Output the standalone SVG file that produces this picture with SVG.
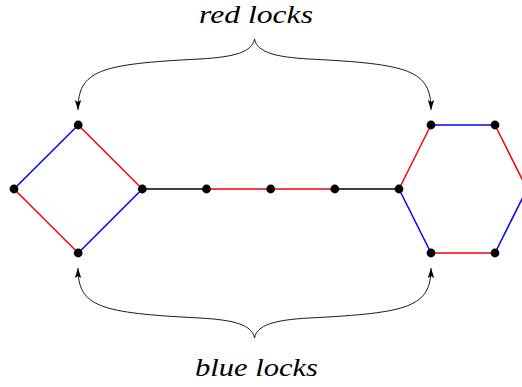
<svg xmlns="http://www.w3.org/2000/svg" width="522" height="387" viewBox="0 0 522 387">
<style>
.e{stroke-width:1.5;fill:none;stroke-linecap:round}
.r{stroke:#ff0000}
.b{stroke:#0000ff}
.k{stroke:#000000}
.n{fill:#000000}
.br{fill:none;stroke:#000000;stroke-width:0.9}
.lbl{font-family:"Liberation Serif","Times New Roman",serif;font-style:italic;font-size:25px;fill:#000000}
</style>
<defs>
<marker id="ah" viewBox="0 0 10 10" refX="10" refY="5" markerWidth="10" markerHeight="10" markerUnits="userSpaceOnUse" orient="auto">
<path d="M0,1.8 L10,5 L0,8.2 L2,5 Z" fill="#000000"/>
</marker>
</defs>
<rect width="522" height="387" fill="#ffffff"/>
<g id="connectors">
<line class="e b" x1="14" y1="189" x2="78.2" y2="125"/>
<line class="e r" x1="78.2" y1="125" x2="142.3" y2="189"/>
<line class="e r" x1="14" y1="189" x2="78.2" y2="253"/>
<line class="e b" x1="78.2" y1="253" x2="142.3" y2="189"/>
<line class="e k" x1="142.3" y1="189" x2="206.5" y2="189"/>
<line class="e r" x1="206.5" y1="189" x2="270.7" y2="189"/>
<line class="e r" x1="270.7" y1="189" x2="334.8" y2="189"/>
<line class="e k" x1="334.8" y1="189" x2="399" y2="189"/>
<line class="e r" x1="399" y1="189" x2="431" y2="125"/>
<line class="e b" x1="431" y1="125" x2="495" y2="125"/>
<line class="e r" x1="495" y1="125" x2="527" y2="189"/>
<line class="e b" x1="527" y1="189" x2="495" y2="253"/>
<line class="e r" x1="495" y1="253" x2="431" y2="253"/>
<line class="e b" x1="431" y1="253" x2="399" y2="189"/>
</g>
<g id="braces">
<path class="br" marker-end="url(#ah)" d="M254.5,39 C252,52 235,57 200,59 C100,64 78,70 78,110"/>
<path class="br" marker-end="url(#ah)" d="M254.5,39 C257,52 274,57 309,59 C409,64 431,70 431,110"/>
<path class="br" marker-end="url(#ah)" d="M254.5,338 C252,325 235,320 200,318 C100,313 78,307 78,268"/>
<path class="br" marker-end="url(#ah)" d="M254.5,338 C257,325 274,320 309,318 C409,313 431,307 431,268"/>
</g>
<g id="label-red"><text class="lbl" x="256" y="23" text-anchor="middle" textLength="114" lengthAdjust="spacingAndGlyphs">red locks</text></g>
<g id="label-blue"><text class="lbl" x="256.5" y="376" text-anchor="middle" textLength="123" lengthAdjust="spacingAndGlyphs">blue locks</text></g>
<g id="n1"><circle class="n" cx="14" cy="189" r="4.4"/></g>
<g id="n2"><circle class="n" cx="78.2" cy="125" r="4.4"/></g>
<g id="n3"><circle class="n" cx="78.2" cy="253" r="4.4"/></g>
<g id="n4"><circle class="n" cx="142.3" cy="189" r="4.4"/></g>
<g id="n5"><circle class="n" cx="206.5" cy="189" r="4.4"/></g>
<g id="n6"><circle class="n" cx="270.7" cy="189" r="4.4"/></g>
<g id="n7"><circle class="n" cx="334.8" cy="189" r="4.4"/></g>
<g id="n8"><circle class="n" cx="399" cy="189" r="4.4"/></g>
<g id="n9"><circle class="n" cx="431" cy="125" r="4.4"/></g>
<g id="n10"><circle class="n" cx="495" cy="125" r="4.4"/></g>
<g id="n11"><circle class="n" cx="527" cy="189" r="4.4"/></g>
<g id="n12"><circle class="n" cx="495" cy="253" r="4.4"/></g>
<g id="n13"><circle class="n" cx="431" cy="253" r="4.4"/></g>
</svg>
